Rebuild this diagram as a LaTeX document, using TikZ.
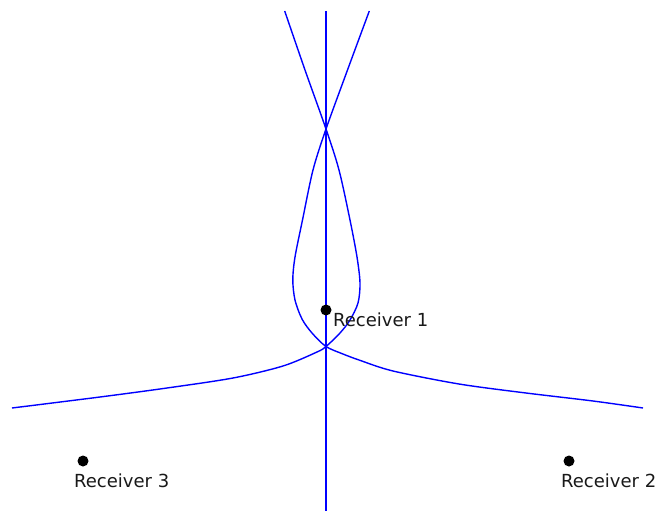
\documentclass[tikz,border=0pt]{standalone}
\usepackage{fontspec}
\setmainfont{DejaVu Sans}
\begin{document}
\begin{tikzpicture}[x=1pt,y=-1pt,
  curve/.style={blue,line width=1.4pt},
  rx/.style={circle,fill=black,inner sep=0pt,minimum size=11pt},
  lbl/.style={anchor=base west,inner sep=0pt,text=black!90,font=\fontsize{18}{20}\selectfont}]
\useasboundingbox (0,0) rectangle (656,511);
% vertical line
\coordinate (vt) at (326,11);
\coordinate (vb) at (326,511);
\draw[curve] (vt) -- (vb);
% branch 1
\draw[curve] plot[smooth,tension=0.5] coordinates {(369.3,11) (347.5,70) (326,129) (313,170) (302.5,220) (295,257) (292.8,280) (295,300) (302,319) (312,333) (326,346.5) (343,354) (359,360) (393,371) (459,384) (526,393) (593,401) (643,408)};
% branch 2
\draw[curve] plot[smooth,tension=0.5] coordinates {(284.7,11) (305,70) (326,129) (339,170) (350,220) (357,257) (360,283) (358,303) (350,320) (340,333) (326,346.5) (317,352) (283,366) (233,378) (167,388) (100,397) (12,408)};
% receivers
\node[rx] (r1) at (326,310) {};
\node[rx] (r2) at (569,461) {};
\node[rx] (r3) at (83,461) {};
\node[lbl] (l1) at (333,326) {Receiver 1};
\node[lbl] (l2) at (561,487) {Receiver 2};
\node[lbl] (l3) at (74,487) {Receiver 3};
\end{tikzpicture}
\end{document}
